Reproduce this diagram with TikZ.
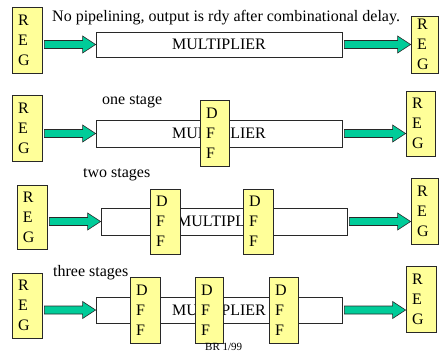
\documentclass[tikz,border=0pt]{standalone}
\usepackage{fontspec}
\setmainfont{Liberation Serif}
\usetikzlibrary{calc}
\definecolor{regyellow}{RGB}{255,255,153}
\definecolor{arrowgreen}{RGB}{0,204,153}
\definecolor{edgegray}{RGB}{40,40,40}
\newcommand\fatarrow[3]{%
  \path[fatarrow] let \p1=(#1.east), \p2=(#2.west), \p3=(#3.center) in
    (\x1+2pt,\y3+4pt) -- (\x2-13pt,\y3+4pt) -- (\x2-13pt,\y3+8.5pt) -- (\x2,\y3)
    -- (\x2-13pt,\y3-8.5pt) -- (\x2-13pt,\y3-4pt) -- (\x1+2pt,\y3-4pt) -- cycle;}
\begin{document}
\begin{tikzpicture}[x=1pt,y=-1pt,
  lbl/.style={font=\fontsize{16}{20}\selectfont, inner sep=0pt},
  regbox/.style={draw=edgegray, line width=0.8pt, fill=regyellow,
    font=\fontsize{16}{20}\selectfont, align=left, inner xsep=6pt, inner ysep=0pt,
    text width=18pt},
  multbox/.style={draw=edgegray, line width=0.8pt, fill=white,
    font=\fontsize{16}{20}\selectfont, inner sep=0pt, minimum width=246pt},
  fatarrow/.style={draw=edgegray, line width=0.6pt, fill=arrowgreen}]
\useasboundingbox (0,0) rectangle (439,354);

% texts
\node[lbl, anchor=base west] (t1) at (52,21) {No pipelining, output is rdy after combinational delay.};
\node[lbl, anchor=base west] (t2) at (102,104) {one stage};
\node[lbl, anchor=base west] (t3) at (83,177) {two stages};
\node[lbl, anchor=base west] (t4) at (53,276) {three stages};

% multiplier boxes
\node[multbox, minimum height=25pt] (m1) at (219,44.5) {MULTIPLIER};
\node[multbox, minimum height=27pt] (m2) at (219,133.5) {MULTIPLIER};
\node[multbox, minimum height=27pt] (m3) at (224,221.5) {MULTIPLIER};
\node[multbox, minimum height=26pt] (m4) at (219,310) {MULTIPLIER};

% registers
\node[regbox, minimum height=66pt] (r1l) at (27,40) {R\\E\\G};
\node[regbox, minimum height=57pt, text width=15pt] (r1r) at (424.5,44.5) {R\\E\\G};
\node[regbox, minimum height=66pt] (r2l) at (27,128) {R\\E\\G};
\node[regbox, minimum height=65pt, text width=17pt] (r2r) at (420.5,123.5) {R\\E\\G};
\node[regbox, minimum height=64pt] (r3l) at (32,217) {R\\E\\G};
\node[regbox, minimum height=66pt, text width=15pt] (r3r) at (424.5,211) {R\\E\\G};
\node[regbox, minimum height=65pt] (r4l) at (27,305.5) {R\\E\\G};
\node[regbox, minimum height=66pt] (r4r) at (421,299) {R\\E\\G};

% pipeline flip-flops
\node[regbox, minimum height=66pt, text width=17pt] (d21) at (214.5,133) {D\\F\\F};
\node[regbox, minimum height=65pt] (d31) at (165,221.5) {D\\F\\F};
\node[regbox, minimum height=65pt] (d32) at (258,221.5) {D\\F\\F};
\node[regbox, minimum height=66pt] (d41) at (145,310) {D\\F\\F};
\node[regbox, minimum height=66pt, text width=16pt] (d42) at (209,310) {D\\F\\F};
\node[regbox, minimum height=66pt, text width=17pt] (d43) at (283.5,310) {D\\F\\F};

% arrows
\fatarrow{r1l}{m1}{m1}
\fatarrow{m1}{r1r}{m1}
\fatarrow{r2l}{m2}{m2}
\fatarrow{m2}{r2r}{m2}
\fatarrow{r3l}{m3}{m3}
\fatarrow{m3}{r3r}{m3}
\fatarrow{r4l}{m4}{m4}
\fatarrow{m4}{r4r}{m4}

\node[font=\fontsize{11}{13}\selectfont, inner sep=0pt, anchor=base west] (br) at (205,350) {BR 1/99};
\end{tikzpicture}
\end{document}
